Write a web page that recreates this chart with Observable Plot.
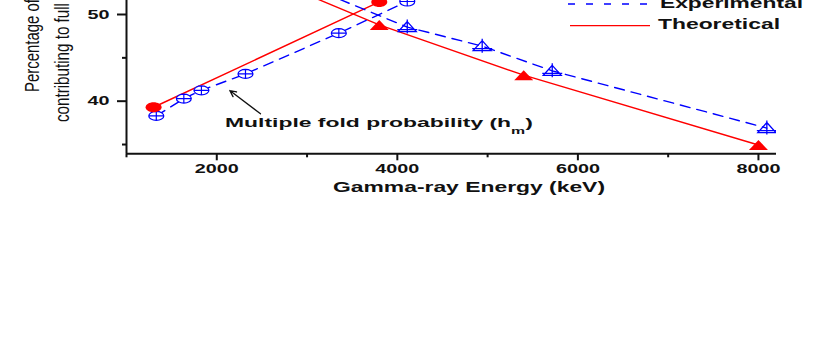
<!DOCTYPE html>
<html><head><meta charset="utf-8">
<script src="https://cdn.jsdelivr.net/npm/d3@7"></script>
<script src="https://cdn.jsdelivr.net/npm/@observablehq/plot@0.6"></script>
<style>html,body{margin:0;padding:0;background:#fff;} svg{display:block;overflow:hidden;}</style>
</head><body><div id="chart"></div>
<script>
// ---- data ----
const theoFoldEnergy = [1300, 3800];
const theoFoldPct = [39.3, 51.45];
const expFoldEnergy = [1330, 1635, 1830, 2318, 3352, 4110];
const expFoldPct = [38.3, 40.3, 41.25, 43.15, 47.85, 51.5];
const theoPeakEnergy = [1300, 3800, 5400, 8000];
const theoPeakPct = [59.7, 48.8, 43.0, 34.95];
const expPeakEnergy = [2318, 4110, 4940, 5716, 8093];
const expPeakPct = [56.2, 48.55, 46.35, 43.5, 36.9];
const xTicks = [2000, 4000, 6000, 8000];
const xMinorTicks = [1000, 3000, 5000, 7000];
const yTicks = [40, 50];
const yMinorTicks = [35, 45];
const legendLabels = ["Experimental", "Theoretical"];
const xTitle = "Gamma-ray Energy (keV)";
const yTitleLines = ["Percentage of", "contributing to full"];
const noteText = "Multiple fold probability (h";
const noteSub = "m";
const noteEnd = ")";
const arrowFrom = [2484, 38.55];
const arrowTo = [2144, 41.23];
const noteAt = [2097, 37.0];

const toRows = (xs, ys) => xs.map((x, i) => ({x, y: ys[i]}));
const RED = "#ff0000", BLUE = "#0000ff";
const FONT = "'Liberation Sans', Arial, Helvetica, sans-serif";

function ellipsePath(ctx, rx, ry) {
  const k = 0.5523;
  ctx.moveTo(rx, 0);
  ctx.bezierCurveTo(rx, ry * k, rx * k, ry, 0, ry);
  ctx.bezierCurveTo(-rx * k, ry, -rx, ry * k, -rx, 0);
  ctx.bezierCurveTo(-rx, -ry * k, -rx * k, -ry, 0, -ry);
  ctx.bezierCurveTo(rx * k, -ry, rx, -ry * k, rx, 0);
  ctx.closePath();
}
const symEllipse = {draw(ctx) { ellipsePath(ctx, 8, 5); }};
const symEllipsePlus = {draw(ctx) {
  ellipsePath(ctx, 7.5, 4.5);
  ctx.moveTo(-7.5, 0); ctx.lineTo(7.5, 0);
  ctx.moveTo(0, -4.5); ctx.lineTo(0, 4.5);
}};
const symTri = {draw(ctx) { ctx.moveTo(0, -5); ctx.lineTo(9.5, 5); ctx.lineTo(-9.5, 5); ctx.closePath(); }};
const symTriPlus = {draw(ctx) {
  ctx.moveTo(0, -5.5); ctx.lineTo(9, 4.5); ctx.lineTo(-9, 4.5); ctx.closePath();
  ctx.moveTo(-10, 2.5); ctx.lineTo(10, 2.5);
  ctx.moveTo(0, -7.5); ctx.lineTo(0, 6.5);
}};

const yDomain = [33.93, 51.615];
const fmt = d3.format("d");

const plot = Plot.plot({
  width: 828, height: 349,
  marginTop: 0, marginLeft: 126, marginRight: 52, marginBottom: 195.7,
  x: {domain: [1000, 8200], label: null},
  y: {domain: yDomain, label: null},
  style: {fontFamily: FONT, fontWeight: "bold", fontSize: "13px", background: "white", color: "#111"},
  marks: [
    Plot.line(toRows(theoPeakEnergy, theoPeakPct), {x: "x", y: "y", stroke: RED, strokeWidth: 1.4, clip: true}),
    Plot.line(toRows(theoFoldEnergy, theoFoldPct), {x: "x", y: "y", stroke: RED, strokeWidth: 1.4, clip: true}),
    Plot.line(toRows(expPeakEnergy, expPeakPct), {x: "x", y: "y", stroke: BLUE, strokeWidth: 1.4, strokeDasharray: "10,7", clip: true}),
    Plot.line(toRows(expFoldEnergy, expFoldPct), {x: "x", y: "y", stroke: BLUE, strokeWidth: 1.4, strokeDasharray: "10,7", clip: true}),
    Plot.dot(toRows(expFoldEnergy, expFoldPct), {x: "x", y: "y", symbol: symEllipsePlus, stroke: BLUE, fill: "white", strokeWidth: 1.2, clip: true}),
    Plot.dot(toRows(expPeakEnergy, expPeakPct), {x: "x", y: "y", symbol: symTriPlus, stroke: BLUE, fill: "none", strokeWidth: 1.3, clip: true}),
    Plot.dot(toRows(theoFoldEnergy, theoFoldPct), {x: "x", y: "y", symbol: symEllipse, fill: RED, stroke: "none", clip: true}),
    Plot.dot(toRows(theoPeakEnergy, theoPeakPct), {x: "x", y: "y", symbol: symTri, fill: RED, stroke: "none", clip: true}),
    Plot.arrow([{x1: arrowFrom[0], y1: arrowFrom[1], x2: arrowTo[0], y2: arrowTo[1]}],
      {x1: "x1", y1: "y1", x2: "x2", y2: "y2", stroke: "#111", strokeWidth: 1.3, headLength: 8, headAngle: 50}),
    Plot.axisX({ticks: xTicks, tickSize: 7, tickPadding: 3, tickFormat: fmt, label: null, strokeWidth: 2, fontSize: 13, fontWeight: "bold"}),
    Plot.axisX({ticks: xMinorTicks, tickSize: 4, tickFormat: () => "", label: null, strokeWidth: 2}),
    Plot.axisY({ticks: yTicks, tickSize: 9, tickPadding: 8, tickFormat: fmt, label: null, strokeWidth: 2, fontSize: 13, fontWeight: "bold"}),
    Plot.axisY({ticks: yMinorTicks, tickSize: 4, tickFormat: () => "", label: null, strokeWidth: 2}),
    Plot.ruleX([1000], {stroke: "#111", strokeWidth: 2}),
    Plot.ruleY([yDomain[0]], {stroke: "#111", strokeWidth: 2})
  ]
});
document.getElementById("chart").appendChild(plot);

const svg = d3.select(plot);
// stretch tick labels horizontally like the original figure
svg.selectAll('g[aria-label="x-axis tick label"] text, g[aria-label="y-axis tick label"] text').each(function () {
  const t = this.textContent;
  if (t) { this.setAttribute("textLength", t.length * 11); this.setAttribute("lengthAdjust", "spacingAndGlyphs"); }
});

function addText(str, x, y, size, weight, len, anchor = "start", fill = "#111", rotate = 0, family = FONT) {
  const t = svg.append("text")
    .attr("transform", `translate(${x},${y})` + (rotate ? ` rotate(${rotate})` : ""))
    .attr("font-family", family).attr("font-size", size).attr("font-weight", weight)
    .attr("text-anchor", anchor).attr("fill", fill).text(str);
  if (len) t.attr("textLength", len).attr("lengthAdjust", "spacingAndGlyphs");
  return t;
}

// x-axis title
addText(xTitle, 333, 191.7, 14.5, "bold", 272);
// y-axis title (two rotated lines, cut at top like the reference)
const narrow = "'Liberation Sans Narrow', 'Liberation Sans', Arial, sans-serif";
addText(yTitleLines[0], 39, 92, 21, "normal", 93, "start", "#111", -90, narrow);
addText(yTitleLines[1], 69, 122, 21, "normal", 119, "start", "#111", -90, narrow);

// legend
svg.append("line").attr("x1", 568).attr("x2", 647).attr("y1", 4).attr("y2", 4)
  .attr("stroke", BLUE).attr("stroke-width", 1.3).attr("stroke-dasharray", "7,11");
addText(legendLabels[0], 660, 7.5, 15, "bold", 143);
svg.append("line").attr("x1", 570).attr("x2", 650).attr("y1", 25.7).attr("y2", 25.7)
  .attr("stroke", RED).attr("stroke-width", 1.3);
addText(legendLabels[1], 658, 29.2, 15, "bold", 122);

// annotation with subscript
const sx = plot.scale("x"), sy = plot.scale("y");
const note = svg.append("text")
  .attr("font-family", FONT).attr("font-size", 13).attr("font-weight", "bold")
  .attr("text-anchor", "start").attr("fill", "#111");
note.append("tspan").text(noteText);
note.append("tspan").attr("font-size", 9).attr("dy", 7).text(noteSub);
note.append("tspan").attr("dy", -7).text(noteEnd);
const w = note.node().getComputedTextLength();
note.attr("transform", `translate(${sx.apply(noteAt[0])},${sy.apply(noteAt[1])}) scale(${308 / w},1)`);
</script>
</body></html>
